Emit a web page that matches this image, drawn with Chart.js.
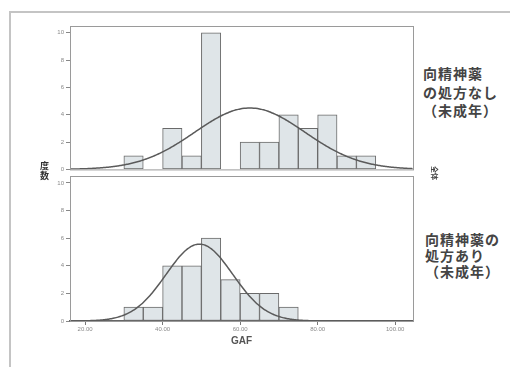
<!DOCTYPE html>
<html>
<head>
<meta charset="utf-8">
<script src="https://cdn.jsdelivr.net/npm/chart.js@4.4.1/dist/chart.umd.min.js"></script>
<style>
  body { margin: 0; background: #fff; }
  #page { position: relative; width: 510px; height: 367px; overflow: hidden; background: #fff; }
  #frame { position: absolute; left: 9px; top: 11px; width: 520px; height: 380px;
           border-left: 2px solid #c4c4c4; border-top: 2px solid #c4c4c4; }
  canvas { position: absolute; }
  #c1 { left: 30px; top: 18px; }
  #c2 { left: 30px; top: 168px; }
  .side { position: absolute; font-family: "Noto Sans CJK JP", sans-serif; font-weight: bold;
          color: #444; font-size: 14px; letter-spacing: 1px; }
  #ylab { position: absolute; left: 40px; top: 161px; font-family: "Noto Sans CJK JP", sans-serif;
          font-weight: bold; font-size: 9px; line-height: 10px; color: #333; width: 10px; }
  #rlab { position: absolute; left: 428px; top: 168px; font-family: "Noto Sans CJK JP", sans-serif;
          font-weight: bold; font-size: 7px; color: #444; transform: rotate(90deg); }
</style>
</head>
<body>
<div id="page">
  <div id="frame"></div>
  <canvas id="c1" width="390" height="157"></canvas>
  <canvas id="c2" width="390" height="192"></canvas>
  <div id="ylab">度<br>数</div>
  <div id="rlab">全体</div>
  <div class="side" style="left:423px; top:64px; line-height:18.5px;">向精神薬<br>の処方なし<br>（未成年）</div>
  <div class="side" style="left:425px; top:231px; line-height:16px;">向精神薬の<br>処方あり<br>（未成年）</div>
</div>
<script>
'use strict';

// bin centres (GAF), bin width 5
var binCenters = [32.5, 37.5, 42.5, 47.5, 52.5, 57.5, 62.5, 67.5, 72.5, 77.5, 82.5, 87.5, 92.5];
// 向精神薬の処方なし（未成年）
var countsNone = [1, 0, 3, 1, 10, 0, 2, 2, 4, 3, 4, 1, 1];
// 向精神薬の処方あり（未成年）
var countsWith = [1, 1, 4, 4, 6, 3, 2, 2, 1, 0, 0, 0, 0];

var xTicks = [20, 40, 60, 80, 100];
var yTicks = [0, 2, 4, 6, 8, 10];

// normal curve parameters
var fitNone = { mean: 62.5, sd: 14.2, n: 32 };
var fitWith = { mean: 49.5, sd: 8.6, n: 24 };
var binWidth = 5;

function normalCurve(fit) {
  var pts = [];
  for (var x = 16; x <= 104.5; x += 0.5) {
    var z = (x - fit.mean) / fit.sd;
    pts.push({ x: x, y: fit.n * binWidth * Math.exp(-0.5 * z * z) / (fit.sd * Math.sqrt(2 * Math.PI)) });
  }
  return pts;
}

var boxPlugin = {
  id: 'box',
  afterDraw: function(chart) {
    var a = chart.chartArea, ctx = chart.ctx;
    ctx.save();
    ctx.strokeStyle = '#9a9a9a';
    ctx.lineWidth = 1;
    ctx.strokeRect(a.left + 0.5, a.top + 0.5, a.right - a.left, a.bottom - a.top);
    ctx.restore();
  }
};

function makeChart(id, counts, fit, showX, pad) {
  var bars = binCenters.map(function(c, i) { return { x: c, y: counts[i] }; });
  return new Chart(document.getElementById(id).getContext('2d'), {
    type: 'bar',
    data: {
      datasets: [{
        type: 'line',
        data: normalCurve(fit),
        borderColor: '#5a5a5a',
        borderWidth: 1.5,
        pointRadius: 0,
        tension: 0.3,
        order: 0
      }, {
        type: 'bar',
        data: bars,
        backgroundColor: '#dfe5e8',
        borderColor: '#6a6a6a',
        borderWidth: 1,
        borderSkipped: false,
        barPercentage: 1,
        categoryPercentage: 1,
        order: 1
      }]
    },
    options: {
      responsive: false,
      animation: false,
      layout: { padding: pad },
      plugins: { legend: { display: false }, tooltip: { enabled: false } },
      scales: {
        x: {
          type: 'linear',
          min: 16.1,
          max: 104.6,
          offset: false,
          display: showX,
          afterBuildTicks: function(s) { s.ticks = xTicks.map(function(v) { return { value: v }; }); },
          afterFit: function(s) { s.height = showX ? 30 : 0; },
          grid: { drawOnChartArea: false, tickLength: 4, color: '#777', offset: false },
          border: { color: '#666', width: 1.5 },
          ticks: {
            color: '#8a8a8a', font: { size: 6 }, padding: 1, maxRotation: 0,
            callback: function(v) { return v.toFixed(2); }
          },
          title: { display: true, text: 'GAF', color: '#555', font: { size: 10, weight: 'bold' }, padding: { top: 3 } }
        },
        y: {
          min: 0,
          max: 10.5,
          afterBuildTicks: function(s) { s.ticks = yTicks.map(function(v) { return { value: v }; }); },
          afterFit: function(s) { s.width = 40; },
          grid: { drawOnChartArea: false, tickLength: 4, color: '#888' },
          border: { color: '#888' },
          ticks: { color: '#8a8a8a', font: { size: 6 }, padding: 2 }
        }
      }
    },
    plugins: [boxPlugin]
  });
}

makeChart('c1', countsNone, fitNone, false, { top: 8, right: 7, bottom: 4, left: 0 });
makeChart('c2', countsWith, fitWith, true, { top: 8, right: 7, bottom: 9, left: 0 });
</script>
</body>
</html>
